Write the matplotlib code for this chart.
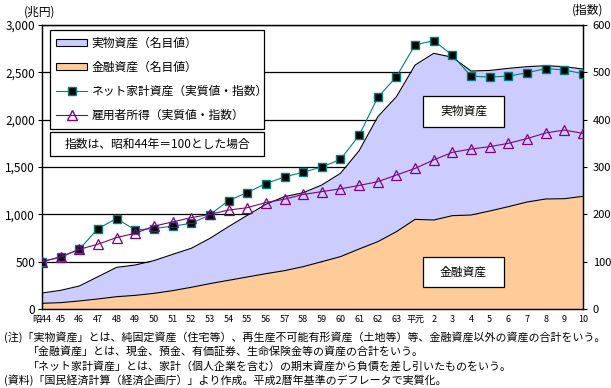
import numpy as np
import matplotlib
matplotlib.use('Agg')
import matplotlib.pyplot as plt
from matplotlib.patches import Patch, Rectangle
from matplotlib.lines import Line2D

plt.rcParams['font.family'] = ['Noto Sans CJK JP', 'DejaVu Sans']

# 年（昭和44年～平成10年）
years = ['昭44', '45', '46', '47', '48', '49', '50', '51', '52', '53', '54', '55', '56', '57',
         '58', '59', '60', '61', '62', '63', '平元', '2', '3', '4', '5', '6', '7', '8', '9', '10']

# 金融資産（兆円）
financial = [60, 67, 85, 106, 130, 144, 165, 194, 229, 268, 303, 338, 373, 405,
             447, 500, 553, 634, 711, 817, 947, 940, 986, 993, 1035, 1081, 1130, 1162, 1165, 1190]
# 実物資産＋金融資産（兆円）
total = [169, 197, 243, 341, 440, 465, 511, 577, 641, 746, 870, 989, 1106, 1187,
         1228, 1310, 1433, 1672, 2031, 2243, 2577, 2701, 2659, 2514, 2520, 2542, 2560, 2570, 2560, 2535]
# ネット家計資産（指数）
net_assets = [100, 110, 126, 170, 191, 167, 170, 175, 181, 199, 229, 246, 265, 279,
              289, 300, 316, 367, 447, 491, 558, 567, 536, 492, 490, 492, 499, 508, 505, 497]
# 雇用者所得（指数）
income = [100, 110, 126, 137, 151, 160, 175, 184, 193, 200, 209, 214, 225, 232,
          242, 248, 254, 261, 269, 283, 297, 315, 331, 338, 343, 350, 360, 372, 378, 371]

notes = ['(注)「実物資産」とは、純固定資産（住宅等）、再生産不可能有形資産（土地等）等、金融資産以外の資産の合計をいう。',
         '「金融資産」とは、現金、預金、有価証券、生命保険金等の資産の合計をいう。',
         '「ネット家計資産」とは、家計（個人企業を含む）の期末資産から負債を差し引いたものをいう。',
         '(資料)「国民経済計算（経済企画庁）」より作成。平成2暦年基準のデフレータで実質化。']

W, H = 611, 388
fig = plt.figure(figsize=(W / 100, H / 100), dpi=100)
L, R, T, B = 42, 583, 25, 309
ax = fig.add_axes([L / W, 1 - B / H, (R - L) / W, (B - T) / H])
ax2 = ax.twinx()

x = np.arange(len(years))
blue = '#CCCCFF'
orange = '#FFCC99'

ax.fill_between(x, financial, total, color=blue, lw=0, zorder=2)
ax.fill_between(x, 0, financial, color=orange, lw=0, zorder=2)
ax.plot(x, total, color='black', lw=0.8, zorder=3)
ax.plot(x, financial, color='black', lw=0.8, zorder=3)

ax.set_ylim(0, 3000)
ax.set_xlim(0, len(years) - 1)
ax.set_yticks(np.arange(0, 3001, 500))
ax.set_yticklabels(['0', '500', '1,000', '1,500', '2,000', '2,500', '3,000'], fontsize=8.5)
ax.yaxis.grid(True, color='black', lw=0.9, zorder=0)
ax.set_axisbelow(True)
ax.set_xticks(x)
ax.set_xticklabels(years, fontsize=6.5)
ax.tick_params(axis='x', length=0, pad=4)
ax.tick_params(axis='y', length=3, pad=2, width=0.8)

ax2.plot(x, net_assets, color='#008080', lw=0.8, marker='s', ms=6,
         mfc='black', mec='#008080', mew=1, zorder=5)
ax2.plot(x, income, color='#800080', lw=0.8, marker='^', ms=7,
         mfc='none', mec='#800080', mew=0.9, zorder=5)
ax2.set_ylim(0, 600)
ax2.set_yticks(np.arange(0, 601, 100))
ax2.tick_params(axis='y', length=3, pad=4, width=0.8, labelsize=8)

for a in (ax, ax2):
    for s in a.spines.values():
        s.set_linewidth(0.9)
        s.set_color('black')

# 凡例
handles = [Patch(facecolor=blue, edgecolor='black', lw=0.8),
           Patch(facecolor=orange, edgecolor='black', lw=0.8),
           Line2D([], [], color='#008080', lw=0.8, marker='s', ms=6, mfc='black', mec='#008080'),
           Line2D([], [], color='#800080', lw=0.8, marker='^', ms=7, mfc='none', mec='#800080')]
labels = ['実物資産（名目値）', '金融資産（名目値）', 'ネット家計資産（実質値・指数）', '雇用者所得（実質値・指数）']
x0 = (50 - L) / (R - L)
x1 = (264 - L) / (R - L)
ytop = (B - 30) / (B - T)
leg = ax2.legend(handles, labels, loc='upper left', bbox_to_anchor=(x0, 0, x1 - x0, ytop),
                 mode='expand', borderaxespad=0, fancybox=False, framealpha=1, edgecolor='black',
                 fontsize=8.5, handlelength=2.6, handleheight=0.6, handletextpad=0.35,
                 labelspacing=0.95, borderpad=0.55)
leg.get_frame().set_linewidth(0.9)

# 注記ボックス
def box(x_a, y_a, x_b, y_b, text, size):
    ax2.add_patch(Rectangle(((x_a - L) / (R - L), (B - y_b) / (B - T)), (x_b - x_a) / (R - L),
                            (y_b - y_a) / (B - T), transform=ax2.transAxes, facecolor='white',
                            edgecolor='black', lw=0.9, zorder=6))
    ax2.text(((x_a + x_b) / 2 - L) / (R - L), (B - (y_a + y_b) / 2) / (B - T), text,
             transform=ax2.transAxes, ha='center', va='center', fontsize=size, zorder=7)

box(50, 132, 264, 156, '指数は、昭和44年＝100とした場合', 8.5)
box(423, 96, 504, 127, '実物資産', 8.5)
box(423, 257, 504, 287, '金融資産', 8.5)

fig.text(24 / W, 1 - 12 / H, '(兆円)', fontsize=8.5, va='center', ha='left')
fig.text(603 / W, 1 - 10 / H, '(指数)', fontsize=8.5, va='center', ha='right')

ys = [337, 351, 366, 380]
xs = [4, 28, 28, 4]
for t, xx, yy in zip(notes, xs, ys):
    fig.text(xx / W, 1 - yy / H, t, fontsize=7.9, va='center', ha='left')

fig.savefig('out.png', dpi=100)
